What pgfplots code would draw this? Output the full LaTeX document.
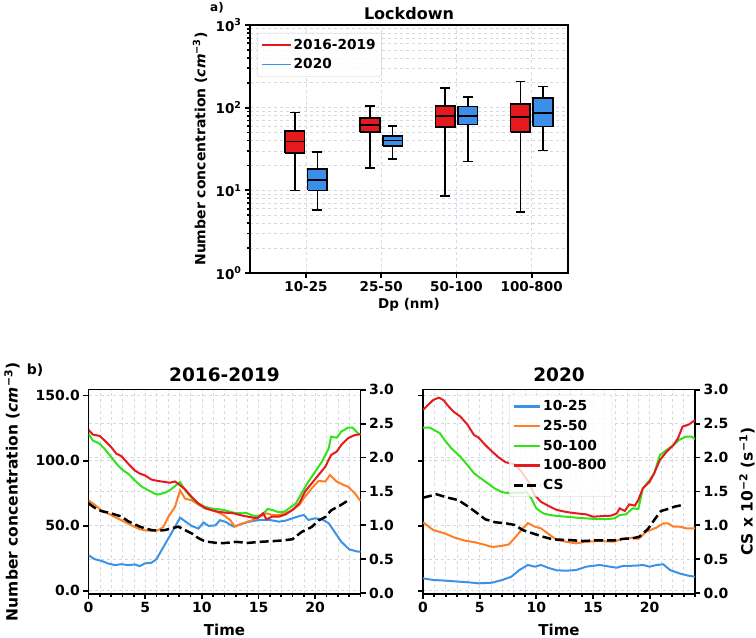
\documentclass[border=0pt]{standalone}
\usepackage{pgfplots}
\pgfplotsset{compat=1.18}
\usepackage{fontspec}
\setmainfont{DejaVu Sans}
\definecolor{cblue}{HTML}{3A93E6}
\definecolor{corange}{HTML}{FF7F27}
\definecolor{cgreen}{HTML}{33E31A}
\definecolor{cred}{HTML}{E6191E}
\definecolor{bblue}{HTML}{3C8FE8}
\definecolor{gridc}{HTML}{D3D9E2}
\newcommand{\fs}[1]{\fontsize{#1}{#1}\selectfont\bfseries}
\pgfplotsset{
  every axis title shift=0pt,
  myax/.style={scale only axis,
    axis line style={black, line width=1.2pt},
    tick style={black, line width=1.8pt},
    major tick length=5pt, minor tick length=3pt,
    tick align=outside,
    /pgf/number format/assume math mode=true,
    ticklabel style={font=\fs{14}},
    grid style={gridc, dashed, line width=0.6pt},
    set layers,
  },
  ll/.style={line width=2pt},
  wk/.style={forget plot, black, line width=1.6pt, unbounded coords=jump},
  bxr/.style={forget plot, fill=cred, draw=black, line width=1.6pt, line join=miter},
  bxb/.style={forget plot, fill=bblue, draw=black, line width=1.6pt, line join=miter},
  md/.style={forget plot, black, line width=1.8pt},
}
\begin{document}
\begin{tikzpicture}
\node[font=\fs{12}] at (217pt,630pt) {a)};
\node[font=\fs{14}] at (35pt,268pt) {b)};
% ---------------- top boxplot ----------------
\begin{axis}[myax, at={(250pt,365pt)}, anchor=south west, width=318pt, height=248pt,
  ymode=log, ymin=1, ymax=1000, xmin=0.255, xmax=4.483,
  xtick={1,2,3,4}, xticklabels={10-25,25-50,50-100,100-800},
  ytick={1,10,100,1000},
  yticklabels={10\textsuperscript{0},10\textsuperscript{1},10\textsuperscript{2},10\textsuperscript{3}},
  xtick pos=lower, ytick pos=left,
  ticklabel style={font=\fs{13.5}},
  ymajorgrids, yminorgrids, xmajorgrids,
  title={Lockdown}, title style={font=\fs{16}, at={(axis description cs:0.5,1.048)}, anchor=center, yshift=0pt},
  xlabel={Dp (nm)}, xlabel style={font=\fs{13.5}, at={(axis description cs:0.5,-0.129)}, anchor=center},
  ylabel={Number concentration (\textit{cm}\textsuperscript{−3})},
  ylabel style={font=\fs{14}, at={(axis description cs:-0.157,0.5)}, anchor=center},
  legend style={at={(axis description cs:0.022,0.968)}, anchor=north west, font=\fs{13.7},
    fill=white, fill opacity=0.8, text opacity=1, draw=gray!40, rounded corners=2pt,
    row sep=4pt, inner sep=4pt},
  legend cell align=left,
  legend image code/.code={\draw[#1] (0pt,0pt) -- (29pt,0pt);},
]
\addlegendimage{cred, line width=1.5pt}\addlegendentry{2016-2019}
\addlegendimage{cblue, line width=1.5pt}\addlegendentry{2020}
% 2016-2019 (red), 10-25
\addplot[wk] coordinates {(0.85,9.9)(0.85,28.2)(0.85,nan)(0.85,52.5)(0.85,87)(0.85,nan)(0.785,9.9)(0.915,9.9)(0.85,nan)(0.785,87)(0.915,87)};
\addplot[bxr] coordinates {(0.72,28.2)(0.98,28.2)(0.98,52.5)(0.72,52.5)(0.72,28.2)};
\addplot[md] coordinates {(0.72,39)(0.98,39)};
% 25-50
\addplot[wk] coordinates {(1.85,18.6)(1.85,51)(1.85,nan)(1.85,74.6)(1.85,105)(1.85,nan)(1.785,18.6)(1.915,18.6)(1.85,nan)(1.785,105)(1.915,105)};
\addplot[bxr] coordinates {(1.72,51)(1.98,51)(1.98,74.6)(1.72,74.6)(1.72,51)};
\addplot[md] coordinates {(1.72,62)(1.98,62)};
% 50-100
\addplot[wk] coordinates {(2.85,8.6)(2.85,58.6)(2.85,nan)(2.85,105)(2.85,172)(2.85,nan)(2.785,8.6)(2.915,8.6)(2.85,nan)(2.785,172)(2.915,172)};
\addplot[bxr] coordinates {(2.72,58.6)(2.98,58.6)(2.98,105)(2.72,105)(2.72,58.6)};
\addplot[md] coordinates {(2.72,79.6)(2.98,79.6)};
% 100-800
\addplot[wk] coordinates {(3.85,5.5)(3.85,50.5)(3.85,nan)(3.85,111)(3.85,207)(3.85,nan)(3.785,5.5)(3.915,5.5)(3.85,nan)(3.785,207)(3.915,207)};
\addplot[bxr] coordinates {(3.72,50.5)(3.98,50.5)(3.98,111)(3.72,111)(3.72,50.5)};
\addplot[md] coordinates {(3.72,76.7)(3.98,76.7)};
% 2020 (blue), 10-25
\addplot[wk] coordinates {(1.15,5.8)(1.15,10)(1.15,nan)(1.15,18)(1.15,29)(1.15,nan)(1.085,5.8)(1.215,5.8)(1.15,nan)(1.085,29)(1.215,29)};
\addplot[bxb] coordinates {(1.02,10)(1.28,10)(1.28,18)(1.02,18)(1.02,10)};
\addplot[md] coordinates {(1.02,13.2)(1.28,13.2)};
% 25-50
\addplot[wk] coordinates {(2.15,24)(2.15,34.5)(2.15,nan)(2.15,45.6)(2.15,60.3)(2.15,nan)(2.085,24)(2.215,24)(2.15,nan)(2.085,60.3)(2.215,60.3)};
\addplot[bxb] coordinates {(2.02,34.5)(2.28,34.5)(2.28,45.6)(2.02,45.6)(2.02,34.5)};
\addplot[md] coordinates {(2.02,40)(2.28,40)};
% 50-100
\addplot[wk] coordinates {(3.15,22.3)(3.15,62.5)(3.15,nan)(3.15,103)(3.15,134)(3.15,nan)(3.085,22.3)(3.215,22.3)(3.15,nan)(3.085,134)(3.215,134)};
\addplot[bxb] coordinates {(3.02,62.5)(3.28,62.5)(3.28,103)(3.02,103)(3.02,62.5)};
\addplot[md] coordinates {(3.02,80)(3.28,80)};
% 100-800
\addplot[wk] coordinates {(4.15,30.3)(4.15,59.2)(4.15,nan)(4.15,130)(4.15,180)(4.15,nan)(4.085,30.3)(4.215,30.3)(4.15,nan)(4.085,180)(4.215,180)};
\addplot[bxb] coordinates {(4.02,59.2)(4.28,59.2)(4.28,130)(4.02,130)(4.02,59.2)};
\addplot[md] coordinates {(4.02,85.7)(4.28,85.7)};
\end{axis}
% ---------------- bottom left: 2016-2019 ----------------
\begin{axis}[myax, at={(88.5pt,44pt)}, anchor=south west, width=272pt, height=204.3pt,
  xmin=0, xmax=24, ymin=-2.5, ymax=154.5,
  xtick={0,5,10,15,20}, minor xtick={0,...,24}, ytick={0,50,100,150},
  xtick pos=lower, ytick pos=left,
  yticklabel style={/pgf/number format/.cd, fixed, fixed zerofill, precision=1},
  xmajorgrids, xminorgrids, ymajorgrids,
  title={2016-2019}, title style={font=\fs{18.5}, at={(axis description cs:0.5,1.072)}, anchor=center, yshift=0pt},
  xlabel={Time}, xlabel style={font=\fs{15}, at={(axis description cs:0.5,-0.176)}, anchor=center},
  ylabel={Number concentration (\textit{cm}\textsuperscript{−3})},
  ylabel style={font=\fs{15.5}, at={(axis description cs:-0.281,0.5)}, anchor=center},
]
\addplot[cblue, ll] coordinates {(0,27.3)(0.53,24.3)(1.12,23)(1.72,21)(2.31,19.7)(2.9,20.4)(3.5,19.7)(4.08,20.2)(4.53,18.9)(4.97,21)(5.56,21.5)(6.0,24.3)(6.45,31.2)(7.04,40.1)(7.63,49)(8.08,56.2)(8.52,53.4)(9.11,49.8)(9.7,47.8)(10.15,52.4)(10.6,49.8)(11.2,50.3)(11.6,54.2)(12.1,52.9)(12.8,49.3)(13.4,51)(14.2,53.1)(15.1,54.4)(16.0,54.4)(16.8,53.1)(17.4,53.9)(18.0,55.7)(18.6,57.4)(19.0,58.2)(19.4,54.4)(20.0,55.7)(20.6,54.9)(21.2,51.8)(21.7,45.4)(22.3,37.7)(23.0,31.8)(23.8,30)(24,30)};
\addplot[corange, ll] coordinates {(0,69.5)(0.53,66.2)(1.12,61.8)(1.72,59.3)(2.31,56.7)(2.9,54.2)(3.5,51.6)(4.08,49)(4.53,47.3)(4.97,46.5)(5.56,46)(6.15,46.5)(6.6,49)(7.04,56.7)(7.63,64.4)(8.08,77.2)(8.52,70.8)(9.11,69.5)(9.7,66.2)(10.3,63.1)(10.9,61.8)(11.5,60)(11.9,58.2)(12.5,54.4)(12.9,49.3)(13.6,51.8)(14.5,54.4)(15.1,56.9)(15.7,59.5)(16.2,58.2)(16.8,58.2)(17.4,59.5)(18.0,62.1)(18.6,65.9)(19.1,72.3)(19.7,78.7)(20.3,84.4)(20.9,83.9)(21.3,89)(21.9,83.9)(22.5,81.3)(22.9,80)(23.5,74.9)(24,69)};
\addplot[cgreen, ll] coordinates {(0,120.6)(0.38,115.5)(0.98,113)(1.42,109)(2.0,102.7)(2.6,96.3)(3.05,92.5)(3.5,90)(4.08,84.8)(4.67,80.2)(5.27,77.2)(5.86,74.6)(6.15,73.9)(6.75,75.4)(7.19,77.2)(7.63,80.5)(8.08,83.6)(8.52,77.2)(9.11,71.3)(9.7,67)(10.3,64.4)(10.9,63.1)(11.5,62.6)(11.9,62.1)(12.8,60)(13.6,59.5)(13.9,59.9)(14.5,57.7)(14.9,57.4)(15.3,58.2)(15.8,62.8)(16.2,62.1)(16.8,60.3)(17.3,60.8)(17.7,63.3)(18.3,67.2)(18.8,74.9)(19.4,83.8)(20.0,91.5)(20.6,99.2)(21.2,109.5)(21.4,118.4)(21.9,117.6)(22.3,122.3)(22.9,125.3)(23.3,125.3)(23.8,120.9)(24,120)};
\addplot[cred, ll] coordinates {(0,123.7)(0.38,120)(0.98,119)(1.42,115.5)(2.0,110.4)(2.46,105.3)(2.9,103.5)(3.5,97.6)(4.08,92.5)(4.53,90)(4.97,88.7)(5.56,85.4)(6.15,84.3)(6.75,83.6)(7.19,83)(7.63,84)(8.08,81)(8.52,78)(9.11,72)(9.7,67)(10.3,63.6)(10.9,61.8)(11.5,60.6)(12.1,60)(12.8,59.5)(13.6,57.7)(14.5,56.2)(14.9,55.7)(15.4,59.5)(15.7,54.9)(16.2,56.9)(16.8,56.9)(17.4,58.7)(18.0,62.1)(18.6,67.2)(19.1,76.2)(19.7,82.6)(20.3,89)(20.9,95.4)(21.4,104.3)(21.9,106.9)(22.3,112)(22.9,117.2)(23.5,119.7)(24,120.2)};
\end{axis}
\begin{axis}[myax, at={(88.5pt,44pt)}, anchor=south west, width=272pt, height=204.3pt,
  xmin=0, xmax=24, ymin=-0.013, ymax=3.0,
  xtick=\empty, ytick={0,0.5,1,1.5,2,2.5,3}, ytick pos=right,
  yticklabel style={/pgf/number format/.cd, fixed, fixed zerofill, precision=1},
  ymajorgrids,
]
\addplot[black, line width=2.5pt, dash pattern=on 9pt off 4pt] coordinates {(0,1.325)(0.53,1.26)(1.12,1.21)(1.72,1.19)(2.31,1.16)(2.9,1.13)(3.5,1.06)(4.08,1.015)(4.53,0.98)(4.97,0.956)(5.56,0.93)(6.15,0.92)(6.75,0.93)(7.34,0.956)(7.93,0.98)(8.52,0.93)(9.11,0.88)(9.7,0.81)(10.3,0.76)(10.9,0.75)(11.5,0.735)(12.1,0.74)(13.0,0.756)(14.1,0.741)(15.1,0.756)(16.2,0.766)(17.1,0.776)(18.0,0.795)(18.8,0.902)(19.7,0.976)(20.3,1.073)(20.9,1.122)(21.4,1.22)(22.2,1.293)(22.9,1.366)};
\end{axis}
% ---------------- bottom right: 2020 ----------------
\begin{axis}[myax, at={(423pt,44pt)}, anchor=south west, width=272pt, height=204.3pt,
  xmin=0, xmax=24, ymin=-2.5, ymax=154.5,
  xtick={0,5,10,15,20}, minor xtick={0,...,24}, ytick={0,50,100,150}, yticklabels={},
  xtick pos=lower, ytick pos=left,
  xmajorgrids, xminorgrids, ymajorgrids,
  title={2020}, title style={font=\fs{18.5}, at={(axis description cs:0.5,1.072)}, anchor=center, yshift=0pt},
  xlabel={Time}, xlabel style={font=\fs{15}, at={(axis description cs:0.5,-0.176)}, anchor=center},
]
\addplot[cblue, ll] coordinates {(0,9.5)(0.9,8.3)(1.9,7.8)(3.1,7)(4.0,6.5)(4.9,5.7)(6.1,6.2)(7.0,8.3)(7.8,10.8)(8.5,15.9)(9.25,19.8)(9.85,18.5)(10.4,19.8)(11.2,17.2)(11.8,15.7)(12.6,15.4)(13.5,15.9)(14.4,18.5)(15.6,19.8)(16.5,18.5)(17.1,17.7)(17.6,19)(18.8,19.3)(19.4,19.8)(20.0,18.5)(20.6,19.8)(21.2,20.3)(21.8,15.9)(22.6,13.4)(23.4,11.6)(24.0,10.8)};
\addplot[corange, ll] coordinates {(0,52.6)(0.9,46.7)(1.9,44.1)(2.8,40.8)(3.7,38.5)(4.6,37.2)(5.5,35.2)(6.1,33.6)(6.9,34.4)(7.6,35.7)(8.2,41.6)(8.8,48)(9.25,52)(9.85,49.3)(10.4,48)(11.2,42.8)(11.8,39)(12.6,37.7)(13.5,36.4)(14.4,37.7)(15.6,38.2)(16.8,37.7)(17.6,39.8)(18.5,40.8)(19.0,39.8)(19.7,45.4)(20.6,48.5)(21.2,51.8)(21.6,51.8)(22.1,49.3)(22.6,49.3)(23.2,48)(24.0,48)};
\addplot[cgreen, ll] coordinates {(0,125.3)(0.6,125.3)(1.5,121)(1.9,115.9)(2.5,109.5)(3.3,103)(3.9,96.7)(4.5,90.3)(5.1,86.4)(5.7,82.6)(6.3,78.7)(7.0,75.7)(7.6,75)(8.2,75.4)(8.8,75)(9.1,76.2)(9.55,71)(10.0,63.3)(10.6,59.5)(11.2,58.2)(11.8,57.5)(12.6,56.9)(13.5,56.2)(14.4,55.6)(15.3,55.1)(16.2,55.1)(16.9,55.6)(17.35,58.2)(17.9,58.7)(18.5,63.3)(19.0,62.8)(19.4,78.7)(20.0,85.1)(20.4,90.3)(20.9,104.3)(21.5,108.2)(22.1,112)(22.6,115.9)(23.2,118.4)(23.7,118.4)(24.0,116.6)};
\addplot[cred, ll] coordinates {(0,138.9)(0.45,142.8)(0.9,146.6)(1.4,148.4)(1.8,146.6)(2.2,142.2)(2.7,137.6)(3.3,133.8)(3.9,127.9)(4.5,119.7)(4.9,117.7)(5.5,112)(6.1,106.9)(6.7,102.3)(7.3,98.7)(8.1,97.2)(8.7,91.5)(9.3,83.8)(9.85,73.6)(10.4,68.4)(11.2,64.6)(11.8,62.1)(12.6,60.6)(13.5,59.5)(14.4,58.7)(15.0,56.9)(15.9,57.4)(16.6,57.7)(17.1,59.5)(17.35,63.3)(17.8,61.3)(18.2,66.4)(18.7,65.4)(19.0,69.8)(19.4,78.7)(20.0,83.8)(20.4,90.3)(20.9,100.5)(21.5,106.9)(22.1,112)(22.5,117.2)(22.9,126.1)(23.5,127.9)(24.0,131.2)};
\end{axis}
\begin{axis}[myax, at={(423pt,44pt)}, anchor=south west, width=272pt, height=204.3pt,
  xmin=0, xmax=24, ymin=-0.013, ymax=3.0,
  xtick=\empty, ytick={0,0.5,1,1.5,2,2.5,3}, ytick pos=right,
  yticklabel style={/pgf/number format/.cd, fixed, fixed zerofill, precision=1},
  ymajorgrids,
  ylabel={CS x 10\textsuperscript{−2} (s\textsuperscript{−1})},
  ylabel style={font=\fs{15.5}, at={(axis description cs:1.191,0.5)}, anchor=center},
  legend style={at={(axis description cs:0.316,0.975)}, anchor=north west, font=\fs{13.8},
    fill=white, fill opacity=0.8, text opacity=1, draw=gray!40, rounded corners=2pt,
    row sep=4pt, inner sep=3.5pt},
  legend cell align=left,
  legend image code/.code={\draw[#1] (0pt,0pt) -- (26pt,0pt);},
]
\addlegendimage{cblue, line width=2.3pt}\addlegendentry{10-25}
\addlegendimage{corange, line width=2.3pt}\addlegendentry{25-50}
\addlegendimage{cgreen, line width=2.3pt}\addlegendentry{50-100}
\addlegendimage{cred, line width=2.3pt}\addlegendentry{100-800}
\addplot[black, line width=2.5pt, dash pattern=on 9pt off 4pt] coordinates {(0,1.407)(1.2,1.457)(2.2,1.407)(3.1,1.373)(4.0,1.275)(4.8,1.177)(5.5,1.088)(6.4,1.044)(7.3,1.03)(8.1,1.005)(8.8,0.93)(9.7,0.88)(10.6,0.83)(11.3,0.8)(11.8,0.79)(12.9,0.783)(14.1,0.768)(15.3,0.778)(16.5,0.778)(17.1,0.778)(17.6,0.8)(18.5,0.808)(19.1,0.833)(19.85,0.946)(20.4,1.078)(21.0,1.211)(21.6,1.24)(22.2,1.275)(22.9,1.3)};
\addlegendentry{CS}
\end{axis}
\pgfresetboundingbox
\useasboundingbox (0,0) rectangle (756pt,638pt);
\end{tikzpicture}
\end{document}
